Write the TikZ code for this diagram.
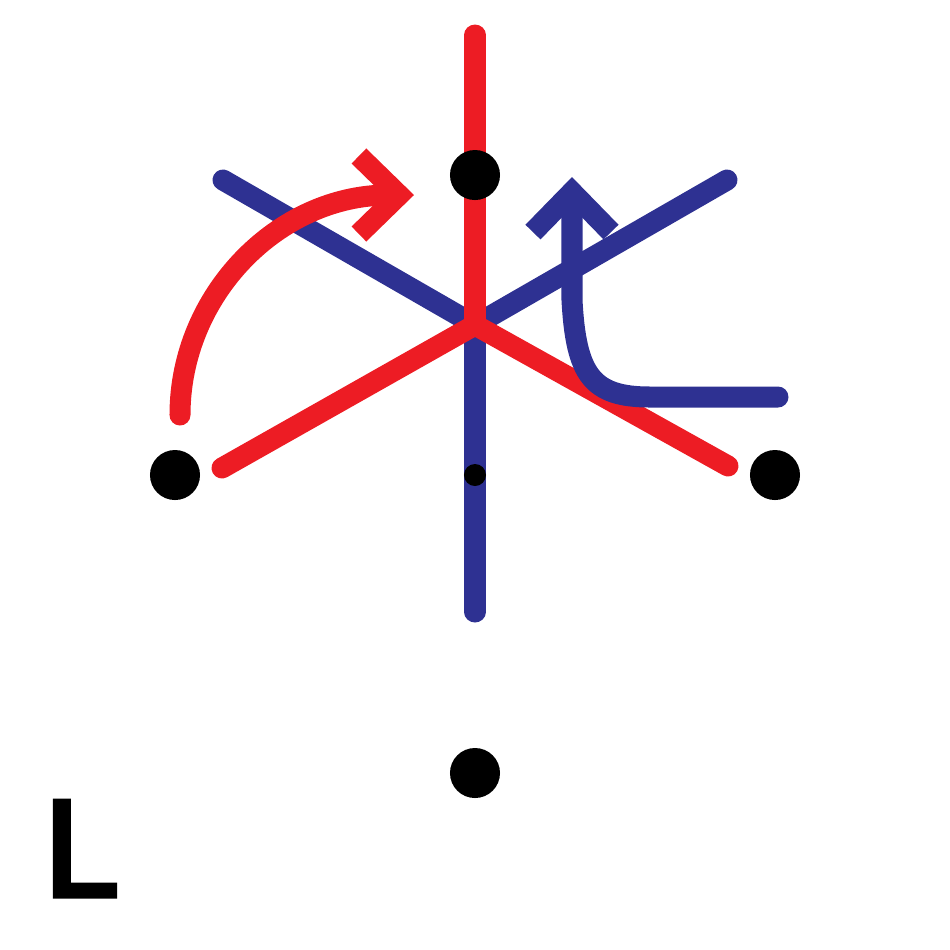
\documentclass[tikz,border=0pt]{standalone}
\usepackage{fontspec}
\newfontfamily\labelfont[FakeBold=4]{DejaVu Sans}
\usetikzlibrary{arrows.meta}
\definecolor{axisred}{HTML}{ED1C24}
\definecolor{axisblue}{HTML}{2E3192}

\begin{document}
\begin{tikzpicture}[
        x=0.01cm, y=-0.01cm,
        thick line/.style={line width=0.21cm, line cap=round},
        redline/.style={thick line, draw=axisred},
        blueline/.style={thick line, draw=axisblue},
        dot/.style={circle, fill=black, inner sep=0pt, minimum size=0.5cm},
        small dot/.style={circle, fill=black, inner sep=0pt, minimum size=0.22cm},
        turn/.style={-{Straight Barb[length=0.4cm, width=0.78cm]}},
    ]
    \useasboundingbox (0,0) rectangle (950,950);

    % Points
    \coordinate (centre) at (475,325);
    \coordinate (red top) at (475,35);
    \coordinate (red left) at (222,468);
    \coordinate (red right) at (728,466);
    \coordinate (blue left) at (223,180);
    \coordinate (blue right) at (727,180);
    \coordinate (blue bottom) at (475,612);

    % Blue axes
    \draw[blueline] (blue left) -- (centre) -- (blue right);
    \draw[blueline] (centre) -- (blue bottom);

    % Red axes
    \draw[redline] (red top) -- (centre);
    \draw[redline] (red left) -- (centre) -- (red right);

    % Nodes
    \node[dot] (top) at (475,175) {};
    \node[dot] (left) at (175,475) {};
    \node[dot] (right) at (775,475) {};
    \node[dot] (bottom) at (475,773) {};
    \node[small dot] (middle) at (475,475) {};
    \node[font=\labelfont\fontsize{37}{40}\selectfont, anchor=base west, inner sep=0pt] (label) at (42,896) {L};

    % Turning arrows
    \coordinate (red start) at (180,415);
    \coordinate (red end) at (414,195);
    \draw[redline, turn] (red start) .. controls (180,294) and (279,195) .. (red end);

    \coordinate (blue start) at (778,397);
    \coordinate (blue end) at (572,177);
    \draw[blueline, turn] (blue start) -- (650,397) .. controls (592,397) and (576,375) .. (572,300) -- (blue end);

\end{tikzpicture}
\end{document}
